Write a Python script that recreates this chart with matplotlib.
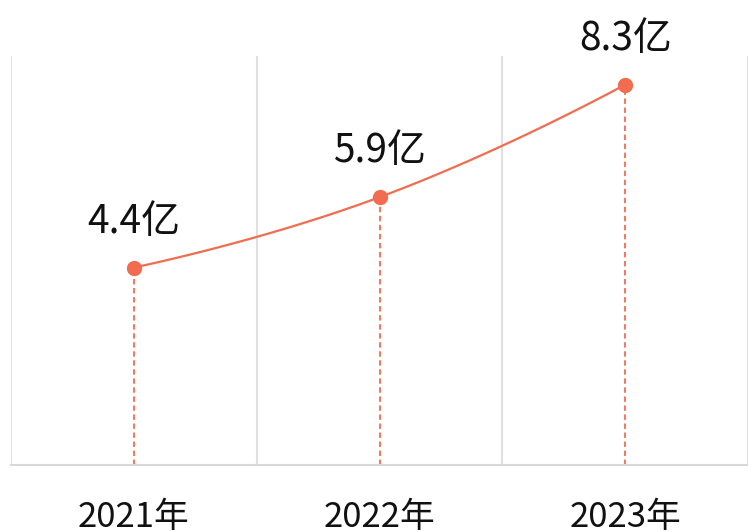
import numpy as np
import matplotlib
matplotlib.use("Agg")
import matplotlib.pyplot as plt

plt.rcParams['font.family'] = ['Noto Sans CJK SC', 'DejaVu Sans']

years = ["2021年", "2022年", "2023年"]
values = [4.4, 5.9, 8.3]
labels = ["4.4亿", "5.9亿", "8.3亿"]

color = "#f26c4f"
grid_color = "#e0e0e0"


def smooth_curve(xs, ys, sx, sy, smooth=0.5, n=60):
    # bezier smoothing in pixel-like space, echarts style
    px = np.array(xs, float) * sx
    py = np.array(ys, float) * sy
    cps = []
    for i in range(len(px)):
        if i == 0 or i == len(px) - 1:
            cps.append(((px[i], py[i]), (px[i], py[i])))
            continue
        vx = (px[i + 1] - px[i - 1]) * smooth
        vy = (py[i + 1] - py[i - 1]) * smooth
        d0 = np.hypot(px[i] - px[i - 1], py[i] - py[i - 1])
        d1 = np.hypot(px[i + 1] - px[i], py[i + 1] - py[i])
        s = d0 + d1
        d0, d1 = d0 / s, d1 / s
        cps.append(((px[i] - vx * d0, py[i] - vy * d0), (px[i] + vx * d1, py[i] + vy * d1)))
    outx, outy = [], []
    t = np.linspace(0, 1, n)
    for i in range(len(px) - 1):
        p0 = np.array([px[i], py[i]])
        p1 = np.array(cps[i][1])
        p2 = np.array(cps[i + 1][0])
        p3 = np.array([px[i + 1], py[i + 1]])
        b = ((1 - t) ** 3)[:, None] * p0 + (3 * (1 - t) ** 2 * t)[:, None] * p1 \
            + (3 * (1 - t) * t ** 2)[:, None] * p2 + (t ** 3)[:, None] * p3
        outx.extend(b[:, 0])
        outy.extend(b[:, 1])
    return np.array(outx) / sx, np.array(outy) / sy


fig = plt.figure(figsize=(7.48, 5.32), dpi=100)
ax = fig.add_axes([11 / 748, (532 - 465) / 532, 737 / 748, (465 - 56) / 532])

x = np.arange(len(years))
ymin, ymax = 0.19, 8.91
ax.set_xlim(-0.5, 2.5)
ax.set_ylim(ymin, ymax)

# category boundary lines
for b in [-0.5, 0.5, 1.5, 2.5]:
    ax.axvline(b, color=grid_color, lw=1.5, zorder=0)

cx, cy = smooth_curve(x, values, 246, 46.9)
ax.plot(cx, cy, color=color, lw=1.6, zorder=2)
ax.plot(x, values, "o", color=color, ms=10, zorder=3)
ax.vlines(x, ymin, values, colors=color, linestyles=(0, (3, 2)), lw=1.3, zorder=1)

for xi, v, lab in zip(x, values, labels):
    ax.annotate(lab, (xi, v), xytext=(0, 25), textcoords="offset points",
                ha="center", va="baseline", fontsize=28, color="#111111")

for s in ["top", "right", "left"]:
    ax.spines[s].set_visible(False)
ax.spines["bottom"].set_color("#d8d8d8")
ax.spines["bottom"].set_linewidth(1.5)
ax.set_yticks([])
ax.set_xticks(x)
ax.set_xticklabels(years, fontsize=25, color="#111111")
ax.tick_params(axis="x", length=0, pad=25)

fig.savefig("out.png", dpi=100)
